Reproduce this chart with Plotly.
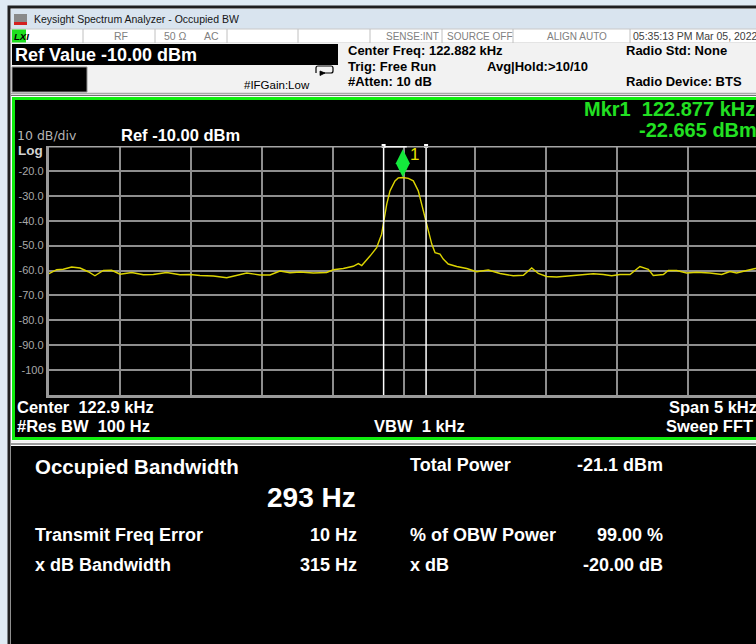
import plotly.graph_objects as go

W, H = 756, 644

# ---------------- data ----------------
center_khz = 122.882
span_khz = 5.0
ref_dbm = -10.0
db_per_div = 10.0

freq_khz = [120.382, 120.440, 120.486, 120.545, 120.604, 120.662, 120.709, 120.768, 120.827, 120.886,
            120.968, 121.050, 121.120, 121.214, 121.308, 121.378, 121.449, 121.543, 121.637, 121.707,
            121.778, 121.871, 121.942, 122.012, 122.083, 122.153, 122.247, 122.341, 122.388, 122.458,
            122.528, 122.564, 122.588, 122.646, 122.693, 122.728, 122.745, 122.764, 122.787, 122.822,
            122.845, 122.877, 122.916, 122.951, 122.986, 123.010, 123.033, 123.057, 123.081, 123.104,
            123.139, 123.162, 123.197, 123.257, 123.327, 123.397, 123.479, 123.562, 123.655, 123.726,
            123.785, 123.831, 123.890, 123.961, 124.031, 124.125, 124.219, 124.289, 124.348, 124.407,
            124.477, 124.547, 124.606, 124.641, 124.712, 124.747, 124.806, 124.876, 124.947, 125.040,
            125.123, 125.181, 125.228, 125.299, 125.359, 125.382]
level_dbm = [-61.4, -59.7, -59.5, -58.6, -59.0, -60.5, -62.1, -60.0, -59.9, -61.5,
             -60.8, -61.7, -61.6, -60.8, -61.7, -61.6, -62.0, -62.2, -62.9, -61.9,
             -61.0, -61.8, -61.8, -60.2, -60.9, -60.6, -61.0, -60.8, -59.7, -59.2,
             -58.3, -57.2, -58.0, -54.2, -50.8, -45.4, -39.4, -33.3, -28.0, -24.0,
             -22.8, -22.665, -23.0, -24.0, -28.0, -33.3, -38.7, -44.1, -49.4, -52.8,
             -53.4, -55.4, -57.4, -58.4, -59.2, -60.5, -59.8, -61.2, -62.1, -61.9,
             -59.0, -61.2, -62.4, -62.6, -62.2, -61.9, -61.3, -61.6, -62.1, -61.6,
             -61.6, -58.4, -59.5, -62.0, -61.6, -60.0, -60.0, -61.0, -60.7, -61.0,
             -61.6, -60.4, -61.0, -60.0, -59.2, -59.3]

mkr_freq_khz = 122.877
mkr_level_dbm = -22.665
obw_edges_khz = [122.742, 123.041]

ytick_vals = [-20, -30, -40, -50, -60, -70, -80, -90, -100]
ytick_text = ["-20.0", "-30.0", "-40.0", "-50.0", "-60.0", "-70.0", "-80.0", "-90.0", "-100"]

# ---------------- layout helpers ----------------
ARIAL = "Liberation Sans, Arial, sans-serif"
DEJAVU = "DejaVu Sans, sans-serif"


def X(p):
    return p / W


def Y(p):
    return 1 - p / H


plot_left_px, plot_top_px, plot_bot_px = 48.5, 146.0, 395.0
div_px = 71.0
x_start = center_khz - span_khz / 2
x_end = x_start + (span_khz / 10) * (W - plot_left_px) / div_px

shapes = []
annos = []


def rect(x0, y0, x1, y1, fill=None, line=None, lw=0, layer="below"):
    shapes.append(dict(type="rect", xref="paper", yref="paper", x0=X(x0), x1=X(x1), y0=Y(y1), y1=Y(y0),
                       fillcolor=fill if fill else "rgba(0,0,0,0)",
                       line=dict(color=line if line else "rgba(0,0,0,0)", width=lw), layer=layer))


def hline(x0, x1, y, color, lw, layer="below"):
    shapes.append(dict(type="line", xref="paper", yref="paper", x0=X(x0), x1=X(x1), y0=Y(y), y1=Y(y),
                       line=dict(color=color, width=lw), layer=layer))


def vline(x, y0, y1, color, lw, layer="below"):
    shapes.append(dict(type="line", xref="paper", yref="paper", x0=X(x), x1=X(x), y0=Y(y0), y1=Y(y1),
                       line=dict(color=color, width=lw), layer=layer))


def txt(x, y, s, size, color="#000000", bold=False, anchor="left", family=ARIAL, italic=False):
    annos.append(dict(x=X(x), y=Y(y), xref="paper", yref="paper", text=s, showarrow=False,
                      xanchor=anchor, yanchor="middle", borderpad=0,
                      font=dict(size=size, color=color, family=family,
                                weight="bold" if bold else "normal",
                                style="italic" if italic else "normal")))


# window frame and title bar
rect(9, 7, 800, 700, fill="#ffffff", line="#202020", lw=3)
rect(11, 9, 800, 29, fill="#d9e4ef")
rect(14, 14, 27, 25, fill="#8a8a8a")
rect(14, 22, 27, 25, fill="#d42020")
txt(33, 19.5, "Keysight Spectrum Analyzer - Occupied BW", 10.5, "#151515")

# status row
rect(11, 29, 800, 43, fill="#ffffff", line="#c8c8c8", lw=1)
rect(12, 29.5, 26, 42.5, fill="#1ee01e")
txt(13, 36.5, "LXI", 9.5, "#000000", bold=True, italic=True)
for sx in [83, 155, 227, 298, 370, 442, 513, 630]:
    vline(sx, 29, 43, "#c0c0c0", 1)
txt(113, 36.5, "RF", 10.5, "#808080")
txt(163, 36.5, "50 \u03a9", 10.5, "#808080")
txt(203, 36.5, "AC", 10.5, "#808080")
txt(440, 36.5, "SENSE:INT", 10, "#808080", anchor="right")
txt(446, 36.5, "SOURCE OFF", 10, "#808080")
txt(546, 36.5, "ALIGN AUTO", 10, "#808080")
txt(632, 36.5, "05:35:13 PM Mar 05, 2022", 10.5, "#404040")

# header area
rect(11, 43, 800, 96, fill="#f2f2f2")
rect(12, 44, 338, 65, fill="#000000")
txt(14, 55, "Ref Value -10.00 dBm", 18, "#ffffff", bold=True)
rect(12, 67, 87, 92, fill="#000000", line="#909090", lw=1)
txt(243, 85, "#IFGain:Low", 11.5, "#000000")
shapes.append(dict(type="path", xref="paper", yref="paper",
                   path=f"M {X(316)},{Y(73)} L {X(316)},{Y(68)} Q {X(316)},{Y(66)} {X(318)},{Y(66)} "
                        f"L {X(331)},{Y(66)} Q {X(333)},{Y(66)} {X(333)},{Y(68)} L {X(333)},{Y(71)} "
                        f"Q {X(333)},{Y(73)} {X(331)},{Y(73)} L {X(322)},{Y(73)}",
                   line=dict(color="#000000", width=1.2), layer="below"))
shapes.append(dict(type="path", xref="paper", yref="paper",
                   path=f"M {X(320)},{Y(71)} L {X(325)},{Y(73)} L {X(320)},{Y(75.5)} Z",
                   fillcolor="#000000", line=dict(color="#000000", width=0.8), layer="below"))
txt(347, 51, "Center Freq: 122.882 kHz", 13, "#000000", bold=True)
txt(347, 66.5, "Trig: Free Run", 13, "#000000", bold=True)
txt(347, 82, "#Atten: 10 dB", 13, "#000000", bold=True)
txt(486, 66.5, "Avg|Hold:>10/10", 13, "#000000", bold=True)
txt(625, 51, "Radio Std: None", 13, "#000000", bold=True)
txt(625, 82, "Radio Device: BTS", 13, "#000000", bold=True)
hline(11, 800, 93.5, "#a8a8a8", 1.5)
hline(11, 800, 95.5, "#707070", 1)

# graph frame (green)
rect(13.5, 98.5, 800, 438.5, fill="#000000", line="#10ee10", lw=3)
hline(11, 800, 441.5, "#f0f0f0", 2)
hline(11, 800, 444, "#9a9a9a", 2)
# metrics panel
rect(11, 446, 800, 700, fill="#000000")

# graph texts
txt(16, 136, "10 dB/div", 12.5, "#b4b4b4", family=DEJAVU)
txt(120, 135, "Ref -10.00 dBm", 16.5, "#ffffff", bold=True)
txt(17, 150.5, "Log", 13.5, "#d2d2d2", bold=True)
txt(583, 109.5, "Mkr1\u00a0\u00a0122.877 kHz", 20, "#22e022", bold=True)
txt(638, 130, "-22.665 dBm", 20, "#22e022", bold=True)
txt(16, 406.5, "Center\u00a0\u00a0122.9 kHz", 16.5, "#ffffff", bold=True)
txt(16, 425.5, "#Res BW\u00a0\u00a0100 Hz", 16.5, "#ffffff", bold=True)
txt(373, 425.5, "VBW\u00a0\u00a01 kHz", 16.5, "#ffffff", bold=True)
txt(668, 406.5, "Span 5 kHz", 16.5, "#ffffff", bold=True)
txt(665, 425.5, "Sweep FFT", 16.5, "#ffffff", bold=True)

# metrics texts
txt(34, 467, "Occupied Bandwidth", 20.5, "#ffffff", bold=True)
txt(357, 497, "293 Hz", 28, "#ffffff", bold=True, anchor="right")
txt(409, 465, "Total Power", 18, "#ffffff", bold=True)
txt(664, 465, "-21.1 dBm", 18, "#ffffff", bold=True, anchor="right")
txt(34, 535, "Transmit Freq Error", 18, "#ffffff", bold=True)
txt(358, 535, "10 Hz", 18, "#ffffff", bold=True, anchor="right")
txt(409, 535, "% of OBW Power", 18, "#ffffff", bold=True)
txt(664, 535, "99.00 %", 18, "#ffffff", bold=True, anchor="right")
txt(34, 565, "x dB Bandwidth", 18, "#ffffff", bold=True)
txt(358, 565, "315 Hz", 18, "#ffffff", bold=True, anchor="right")
txt(409, 565, "x dB", 18, "#ffffff", bold=True)
txt(664, 565, "-20.00 dB", 18, "#ffffff", bold=True, anchor="right")

# data-referenced shapes: OBW lines, top border and bracket
for fx in obw_edges_khz:
    shapes.append(dict(type="line", xref="x", yref="y", x0=fx, x1=fx, y0=ref_dbm - 10 * db_per_div, y1=ref_dbm,
                       line=dict(color="#ffffff", width=1.5), layer="above"))
shapes.append(dict(type="line", xref="x", yref="y", x0=x_start, x1=x_end, y0=ref_dbm, y1=ref_dbm,
                   line=dict(color="#a6a6a6", width=3), layer="above"))
shapes.append(dict(type="line", xref="x", yref="y", x0=obw_edges_khz[0], x1=mkr_freq_khz + 0.028,
                   y0=ref_dbm, y1=ref_dbm, line=dict(color="#f4f4f4", width=3), layer="above"))

fig = go.Figure()
fig.add_trace(go.Scatter(x=freq_khz, y=level_dbm, mode="lines",
                         line=dict(color="#dcd400", width=1.4), hoverinfo="skip", showlegend=False))
fig.add_trace(go.Scatter(x=obw_edges_khz, y=[ref_dbm, ref_dbm], mode="markers",
                         marker=dict(symbol="square", size=4, color="#ffffff"), cliponaxis=False,
                         hoverinfo="skip", showlegend=False))
mkr_symbol_offset_db = 5.7
fig.add_trace(go.Scatter(x=[mkr_freq_khz], y=[mkr_level_dbm + mkr_symbol_offset_db], mode="markers",
                         marker=dict(symbol="diamond-tall", size=20, color="#14e83c",
                                     line=dict(width=0)), cliponaxis=False,
                         hoverinfo="skip", showlegend=False))
annos.append(dict(x=mkr_freq_khz, y=mkr_level_dbm, xref="x", yref="y", text="1", showarrow=False,
                  xshift=12, yshift=23, font=dict(size=17, color="#e8e000", family=ARIAL)))

fig.update_layout(
    width=W, height=H, margin=dict(l=0, r=0, t=0, b=0),
    paper_bgcolor="#e0ebf4", plot_bgcolor="#000000",
    shapes=shapes, annotations=annos, showlegend=False,
    xaxis=dict(domain=[X(plot_left_px), 1], range=[x_start, x_end], tick0=x_start, dtick=span_khz / 10,
               showgrid=True, gridcolor="#8e8e8e", gridwidth=1.5, zeroline=False, showticklabels=False,
               ticks="", showline=True, linecolor="#9a9a9a", linewidth=2.5, fixedrange=True),
    yaxis=dict(domain=[Y(plot_bot_px), Y(plot_top_px)], range=[ref_dbm - 10 * db_per_div, ref_dbm],
               tickvals=ytick_vals, ticktext=ytick_text, showgrid=True, gridcolor="#8e8e8e", gridwidth=1.5,
               zeroline=False, ticks="", showline=True, linecolor="#9a9a9a", linewidth=2.5,
               tickfont=dict(family=ARIAL, size=11, color="#a8a8a8"), automargin=False, fixedrange=True),
)

fig.write_html("out.html", config={"displayModeBar": False},
               post_script="document.body.style.margin='0';document.body.style.overflow='hidden';")
